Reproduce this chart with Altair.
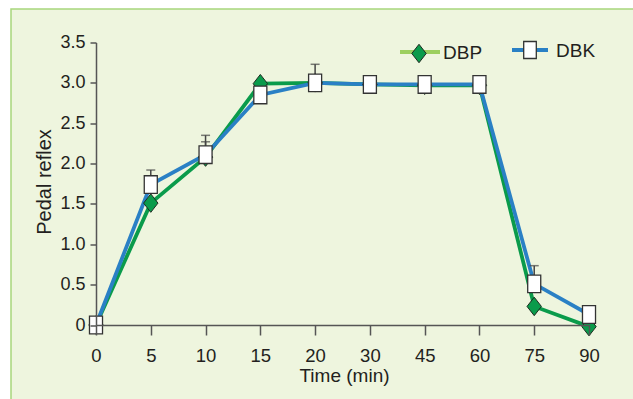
import altair as alt
import pandas as pd

times = ["0", "5", "10", "15", "20", "30", "45", "60", "75", "90"]
dbp = [0.0, 1.51, 2.08, 2.99, 3.0, 2.98, 2.97, 2.97, 0.23, -0.02]
dbk = [0.0, 1.74, 2.11, 2.85, 3.0, 2.98, 2.98, 2.98, 0.51, 0.13]
dbk_upper = [None, 1.92, 2.35, None, 3.23, None, None, None, 0.735, None]
dbp_upper = [None, None, 2.27, None, None, None, None, None, None, None]
y_ticks = [0, 0.5, 1.0, 1.5, 2.0, 2.5, 3.0, 3.5]

FONT = "Liberation Sans"
TXT = "#231f20"
GREEN = "#0a9b4b"
BLUE = "#2a80c5"
LIGHT_GREEN = "#9ccf5f"

W, H = 493, 282.5

df = pd.DataFrame({"time": times * 2,
                   "value": dbp + dbk,
                   "series": ["DBP"] * len(times) + ["DBK"] * len(times)})
err_rows = []
for t, v, u in zip(times, dbk, dbk_upper):
    if u is not None:
        err_rows.append({"time": t, "value": v, "upper": u})
for t, v, u in zip(times, dbp, dbp_upper):
    if u is not None:
        err_rows.append({"time": t, "value": v, "upper": u})
err = pd.DataFrame(err_rows)

x_scale = alt.Scale(type="point", padding=0, domain=times)
x_enc = alt.X("time:O", sort=times, scale=x_scale,
              axis=alt.Axis(title="Time (min)", labelAngle=0, tickSize=10,
                            labelFontSize=18.5, labelBaseline="alphabetic",
                            labelPadding=26, titleFontSize=19,
                            titleX=248, titleY=56.5, titleBaseline="alphabetic",
                            titleFontWeight="normal", zindex=2))
y_scale = alt.Scale(domain=[0, 3.5], nice=False, zero=False)
y_enc = alt.Y("value:Q", scale=y_scale,
              axis=alt.Axis(title="Pedal reflex", values=y_ticks, tickSize=6,
                            labelPadding=5, labelFontSize=18,
                            labelExpr="datum.value == 0 ? '0' : format(datum.value, '.1f')",
                            titleFontSize=20, titleAngle=270, titleX=-46, titleY=139,
                            titleBaseline="alphabetic", titleAlign="center",
                            titleFontWeight="normal", zindex=2))

bg = alt.Chart(pd.DataFrame({"a": [0]})).mark_rect(
    fill="#eef5de", stroke="#a8d67c", strokeWidth=1.5
).encode(x=alt.value(-85), x2=alt.value(W + 80), y=alt.value(-33.5), y2=alt.value(H + 120))

base = alt.Chart(df)
green_line = base.transform_filter(alt.datum.series == "DBP").mark_line(
    color=GREEN, strokeWidth=3.8).encode(x=x_enc, y=y_enc)
blue_line = base.transform_filter(alt.datum.series == "DBK").mark_line(
    color=BLUE, strokeWidth=3.8).encode(x=x_enc, y=y_enc)

err_rule = alt.Chart(err).mark_rule(color="#444444", strokeWidth=1.5).encode(
    x=alt.X("time:O", sort=times, scale=x_scale), y=alt.Y("value:Q", scale=y_scale),
    y2="upper:Q")
err_cap = alt.Chart(err).mark_tick(color="#444444", thickness=1.5, size=9).encode(
    x=alt.X("time:O", sort=times, scale=x_scale), y=alt.Y("upper:Q", scale=y_scale))

diamond_path = "M0,-1 L0.78,0 L0,1 L-0.78,0 Z"
square_path = "M-0.74,-1 L0.74,-1 L0.74,1 L-0.74,1 Z"

diamonds = base.transform_filter(alt.datum.series == "DBP").mark_point(
    shape=diamond_path, size=340, filled=True, fill=GREEN, stroke="#1e2b20",
    strokeWidth=1, opacity=1).encode(x=x_enc, y=y_enc)
squares = base.transform_filter(alt.datum.series == "DBK").mark_point(
    shape=square_path, size=310, filled=True, fill="white", stroke="#333333",
    strokeWidth=1.3, opacity=1).encode(x=x_enc, y=y_enc)

# legend
leg = pd.DataFrame({"name": ["DBP", "DBK"]})
legend_layers = [
    alt.Chart(leg).transform_filter(alt.datum.name == "DBP").mark_rule(
        color=LIGHT_GREEN, strokeWidth=4).encode(x=alt.value(304), x2=alt.value(344), y=alt.value(9.5)),
    alt.Chart(leg).transform_filter(alt.datum.name == "DBP").mark_point(
        shape=diamond_path, size=340, filled=True, fill=GREEN, stroke="#1e2b20",
        strokeWidth=1, opacity=1).encode(x=alt.value(323), y=alt.value(11)),
    alt.Chart(leg).transform_filter(alt.datum.name == "DBP").mark_text(
        font=FONT, fontSize=19, color=TXT, align="left", baseline="alphabetic").encode(
        x=alt.value(347), y=alt.value(16), text="name:N"),
    alt.Chart(leg).transform_filter(alt.datum.name == "DBK").mark_rule(
        color=BLUE, strokeWidth=4).encode(x=alt.value(416), x2=alt.value(452), y=alt.value(7.5)),
    alt.Chart(leg).transform_filter(alt.datum.name == "DBK").mark_point(
        shape=square_path, size=290, filled=True, fill="white", stroke="#333333",
        strokeWidth=1.3, opacity=1).encode(x=alt.value(434), y=alt.value(7.5)),
    alt.Chart(leg).transform_filter(alt.datum.name == "DBK").mark_text(
        font=FONT, fontSize=19, color=TXT, align="left", baseline="alphabetic").encode(
        x=alt.value(460), y=alt.value(14.5), text="name:N"),
]

chart = alt.layer(bg, green_line, blue_line, err_rule, err_cap, diamonds, squares,
                  *legend_layers).properties(
    width=W, height=H,
    autosize=alt.AutoSizeParams(type="none"),
    padding={"left": 96, "top": 42.5, "right": 44, "bottom": 74},
    background="white",
).configure_view(stroke=None).configure_axis(
    grid=False, domainColor="#555555", domainWidth=1.5, tickColor="#555555",
    tickWidth=1.5, labelColor=TXT, titleColor=TXT, labelFont=FONT, titleFont=FONT,
)

chart.save("out.html", embed_options={"renderer": "svg", "actions": False})
